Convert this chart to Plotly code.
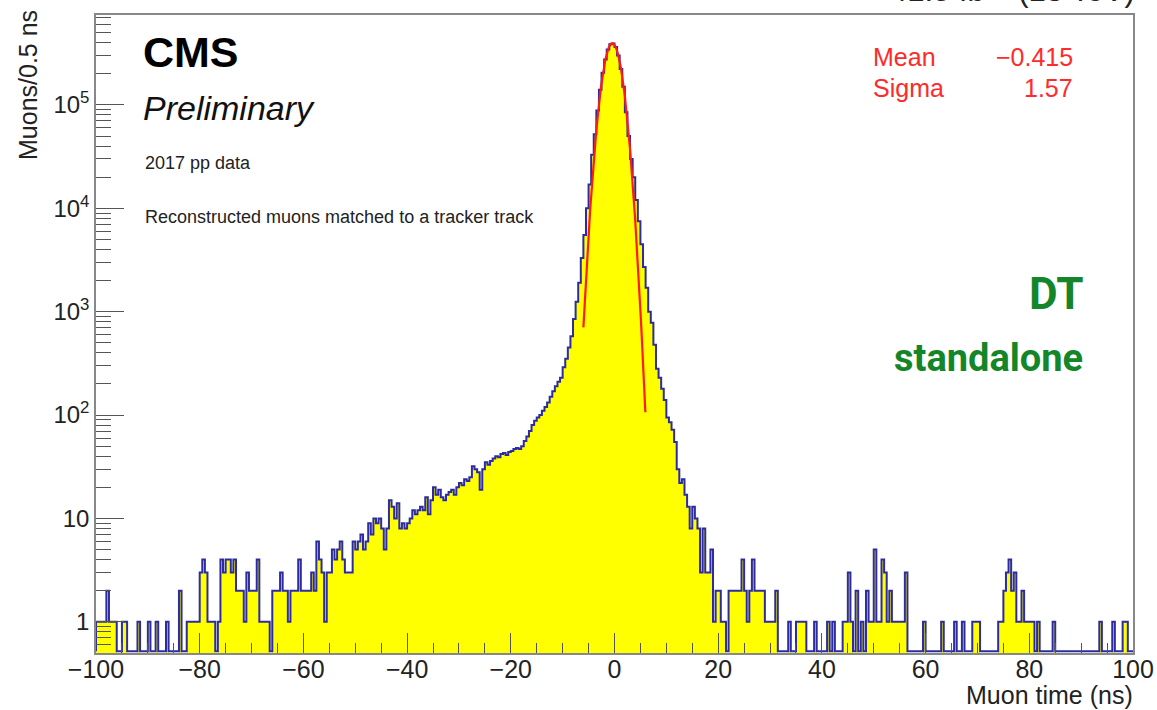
import math
import plotly.graph_objects as go

# ---------------- data ----------------
# muon time histogram, 0.5 ns bins from -100 ns to 100 ns (400 bins)
bin_low = -100.0
bin_width = 0.5
counts_m100_m90 = [1, 1, 1, 1, 2, 1, 1, 1, 0, 0, 1, 1, 0, 0, 0, 0, 1, 0, 0, 0]
counts_m90_m80 = [1, 0, 0, 1, 0, 0, 0, 1, 0, 0, 0, 0, 2, 0, 0, 1, 1, 1, 1, 1]
counts_m80_m70 = [3, 4, 3, 1, 1, 1, 0, 1, 4, 3, 4, 4, 3, 4, 2, 2, 2, 1, 3, 2]
counts_m70_m60 = [2, 2, 4, 1, 1, 1, 1, 0, 2, 2, 2, 3, 2, 2, 1, 2, 2, 2, 4, 2]
counts_m60_m50 = [2, 2, 2, 3, 2, 6, 4, 3, 1, 3, 3, 5, 4, 5, 6, 4, 3, 3, 3, 6]
counts_m50_m40 = [5, 6, 7, 5, 6, 9, 7, 10, 9, 10, 8, 5, 8, 15, 13, 10, 14, 8, 9, 8]
counts_m40_m30 = [9, 10, 12, 11, 12, 13, 12, 16, 11, 15, 20, 17, 19, 16, 15, 17, 18, 19, 17, 20]
counts_m30_m20 = [22, 21, 24, 23, 25, 32, 30, 28, 19, 30, 35, 33, 36, 38, 40, 39, 42, 43, 41, 44]
counts_m20_m10 = [45, 47, 48, 47, 50, 56, 62, 70, 80, 88, 95, 100, 110, 120, 132, 150, 170, 190, 210, 230]
counts_m10_0 = [290, 350, 450, 580, 850, 1250, 1900, 3300, 5500, 10000, 17000, 33000, 52000, 88000,
                140000, 205000, 275000, 343000, 386000, 393000]
counts_0_10 = [362000, 300000, 222000, 150000, 85000, 50000, 30000, 20000, 12000, 7500, 4500, 2700,
               1700, 1000, 780, 480, 280, 230, 180, 140]
counts_10_20 = [95, 85, 72, 55, 30, 22, 24, 17, 13, 8, 13, 10, 8, 3, 8, 3, 3, 5, 1, 2]
counts_20_30 = [2, 1, 1, 0, 2, 2, 2, 2, 2, 4, 2, 1, 2, 4, 2, 2, 2, 2, 1, 1]
counts_30_40 = [1, 1, 2, 0, 0, 0, 0, 1, 0, 0, 1, 1, 1, 1, 0, 0, 0, 1, 0, 0]
counts_40_50 = [0, 0, 1, 0, 1, 0, 0, 0, 1, 1, 3, 1, 0, 2, 0, 1, 0, 2, 1, 1]
counts_50_60 = [5, 1, 1, 4, 3, 1, 2, 1, 1, 1, 1, 1, 3, 0, 0, 0, 0, 0, 0, 1]
counts_60_70 = [0, 0, 0, 0, 0, 0, 1, 0, 0, 0, 0, 1, 0, 0, 1, 0, 0, 0, 1, 1]
counts_70_80 = [1, 0, 0, 0, 0, 0, 0, 0, 1, 1, 2, 3, 4, 2, 3, 1, 1, 2, 1, 1]
counts_80_90 = [1, 1, 0, 1, 0, 0, 0, 0, 0, 1, 0, 0, 0, 0, 0, 0, 0, 0, 0, 0]
counts_90_100 = [0, 0, 0, 0, 0, 0, 0, 1, 0, 0, 0, 0, 1, 0, 0, 0, 1, 1, 0, 0]

# Gaussian fit parameters shown on the chart
fit_mean = -0.415
fit_sigma = 1.57
fit_constant = 3.95e5
fit_range = [-6.0, 5.95]

x_tick_values = [-100, -80, -60, -40, -20, 0, 20, 40, 60, 80, 100]
y_tick_values = [1, 10, 100, 1000, 10000, 100000]
y_tick_labels = ["1", "10", "10<sup>2</sup>", "10<sup>3</sup>", "10<sup>4</sup>", "10<sup>5</sup>"]

# ---------------- build ----------------
counts = (counts_m100_m90 + counts_m90_m80 + counts_m80_m70 + counts_m70_m60 + counts_m60_m50 +
          counts_m50_m40 + counts_m40_m30 + counts_m30_m20 + counts_m20_m10 + counts_m10_0 +
          counts_0_10 + counts_10_20 + counts_20_30 + counts_30_40 + counts_40_50 + counts_50_60 +
          counts_60_70 + counts_70_80 + counts_80_90 + counts_90_100)
nb = len(counts)
edges = [bin_low + bin_width * i for i in range(nb + 1)]
centers = [bin_low + bin_width * (i + 0.5) for i in range(nb)]

YMIN, YMAX = 0.5, 7.4e5
floor_v = 0.52  # outline drawn along the bottom for empty bins

outline_x = [edges[0]] + edges + [edges[-1]]
outline_y = ([floor_v] + [c if c > 0 else floor_v for c in counts] +
             [counts[-1] if counts[-1] > 0 else floor_v, floor_v])

nfit = 241
fit_x = [fit_range[0] + (fit_range[1] - fit_range[0]) * k / (nfit - 1) for k in range(nfit)]
fit_y = [fit_constant * math.exp(-0.5 * ((t - fit_mean) / fit_sigma) ** 2) for t in fit_x]

FONT = "Liberation Sans, Arial, Helvetica, sans-serif"
BOLDFONT = "Roboto, Liberation Sans, Arial, sans-serif"

fig = go.Figure()
fig.add_trace(go.Bar(x=centers, y=[c if c > 0 else None for c in counts], width=bin_width,
                     marker=dict(color="#ffff00", line=dict(width=0)), hoverinfo="skip"))
fig.add_trace(go.Scatter(x=outline_x, y=outline_y, mode="lines", line_shape="hv",
                         line=dict(color="#2c2ca0", width=2)))
fig.add_trace(go.Scatter(x=fit_x, y=fit_y, mode="lines", line=dict(color="#ff1a1a", width=2.2)))

# pixel -> paper helpers for text placement
L, R, T, B = 96, 24, 15, 57
W, H = 1157, 710
PW, PH = W - L - R, H - T - B


def px(x):
    return (x - L) / PW


def py(y):
    return (H - B - y) / PH


minor_y = [m * 10 ** e for e in range(-1, 6) for m in range(2, 10) if YMIN < m * 10 ** e < YMAX]

ann = []


def add_text(text, x, y, size, color="#111111", xanchor="left", family=FONT, yanchor="middle", angle=0):
    ann.append(dict(text=text, x=px(x), y=py(y), xref="paper", yref="paper", showarrow=False,
                    xanchor=xanchor, yanchor=yanchor, textangle=angle,
                    font=dict(family=family, size=size, color=color)))


add_text("<b>CMS</b>", 141, 52, 43, color="#000000")
add_text("<i>Preliminary</i>", 141, 108, 34, color="#111111")
add_text("2017 pp data", 143, 163, 18, color="#222222")
add_text("Reconstructed muons matched to a tracker track", 143, 217, 18, color="#222222")
add_text("Mean", 871, 57, 25, color="#ff2a2a")
add_text("Sigma", 871, 88, 25, color="#ff2a2a")
add_text("\u22120.415", 1075, 57, 25, color="#ff2a2a", xanchor="right")
add_text("1.57", 1075, 88, 25, color="#ff2a2a", xanchor="right")
add_text("<b>DT</b>", 1085, 294, 44, color="#14862a", xanchor="right", family=BOLDFONT)
add_text("<b>standalone</b>", 1085, 358, 38, color="#14862a", xanchor="right", family=BOLDFONT)
add_text("Muon time (ns)", 1135, 695, 25, color="#222222", xanchor="right")
add_text("41.5 fb<sup>\u22121</sup> (13 TeV)", 1137, 10, 31, color="#222222", xanchor="right", yanchor="bottom")
ann.append(dict(text="Muons/0.5 ns", x=px(28), y=py(8), xref="paper", yref="paper", showarrow=False,
                xanchor="center", yanchor="top", textangle=-90,
                font=dict(family=FONT, size=25, color="#222222")))

fig.update_layout(
    width=W, height=H, margin=dict(l=L, r=R, t=T, b=B, autoexpand=False),
    paper_bgcolor="white", plot_bgcolor="white", showlegend=False, bargap=0,
    annotations=ann,
    xaxis=dict(range=[-100, 100], tickmode="array", tickvals=x_tick_values, automargin=False,
               ticks="inside", ticklen=20, tickwidth=1, tickcolor="#555555",
               minor=dict(dtick=5, tick0=0, ticks="inside", ticklen=10, tickcolor="#555555", showgrid=False),
               showline=True, linecolor="#888888", linewidth=1.5, mirror=True,
               showgrid=False, zeroline=False, ticklabelstandoff=-7,
               tickfont=dict(family=FONT, size=25, color="#222222")),
    yaxis=dict(type="log", range=[math.log10(YMIN), math.log10(YMAX)], tickmode="array",
               tickvals=y_tick_values, ticktext=y_tick_labels, automargin=False,
               ticks="inside", ticklen=28, tickwidth=1, tickcolor="#555555",
               minor=dict(tickmode="array", tickvals=minor_y, ticks="inside", ticklen=15,
                          tickcolor="#555555", showgrid=False),
               showline=True, linecolor="#888888", linewidth=1.5, mirror=True,
               showgrid=False, zeroline=False,
               tickfont=dict(family=FONT, size=24, color="#222222")),
)

fig.write_html("out.html")
